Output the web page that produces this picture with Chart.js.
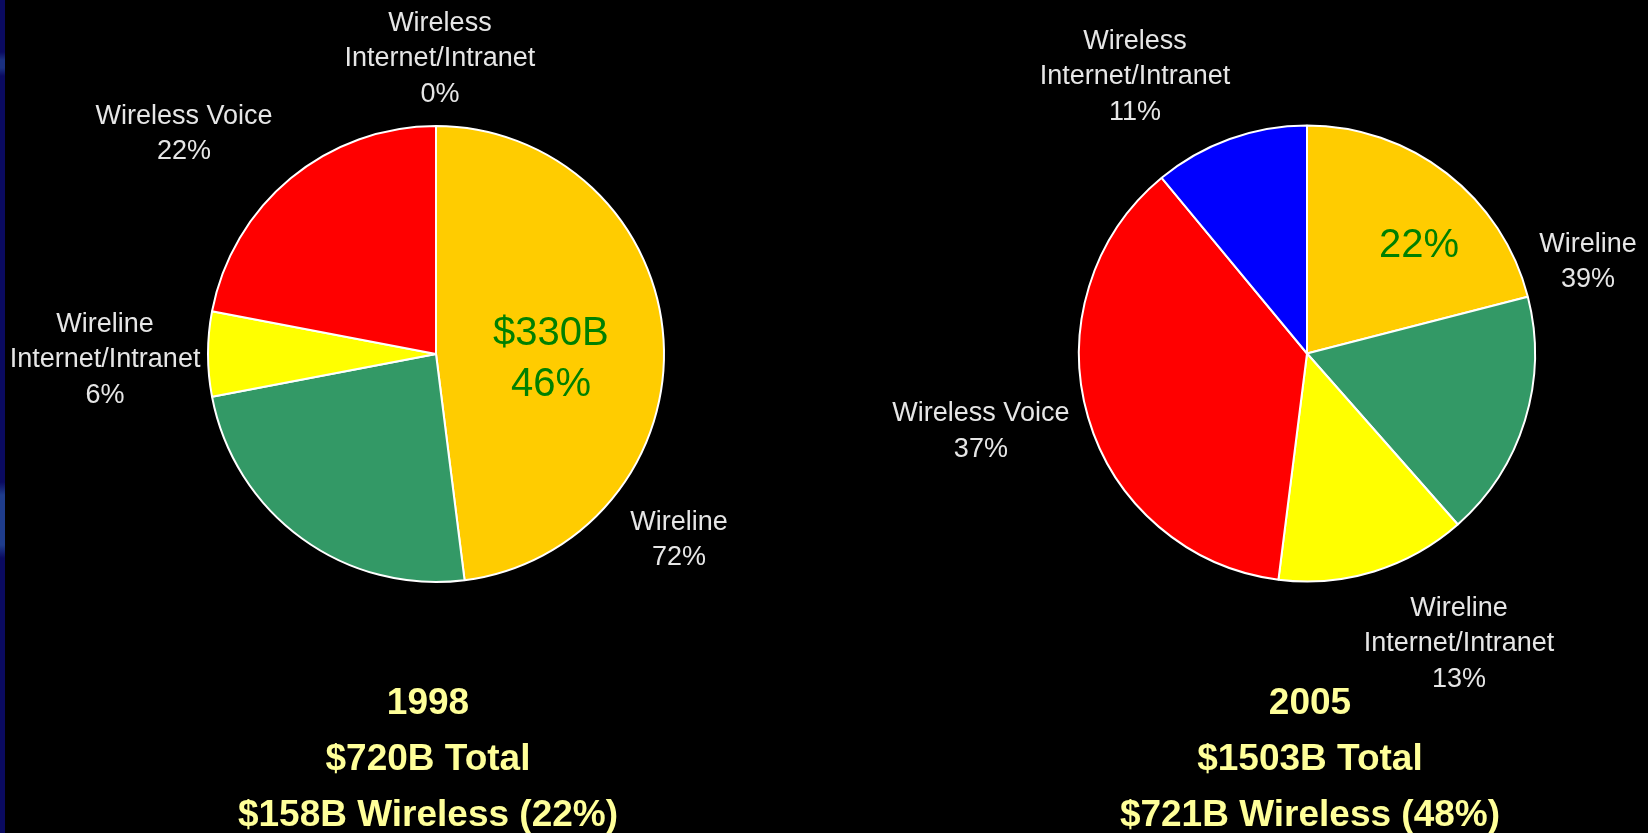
<!DOCTYPE html>
<html>
<head>
<meta charset="utf-8">
<script src="https://cdn.jsdelivr.net/npm/chart.js@4.4.1/dist/chart.umd.min.js"></script>
<style>
html,body{margin:0;padding:0;background:#000;width:1648px;height:833px;overflow:hidden;}
canvas{position:absolute;left:0;top:0;}
#overlay{position:absolute;left:0;top:0;width:1648px;height:833px;z-index:5;pointer-events:none;}
.strip{position:absolute;left:0;top:0;width:5px;height:833px;z-index:6;
  background:linear-gradient(to bottom,#0a0a60 0px,#0a0a60 52px,#1a3080 60px,#1a3080 68px,#0a0a60 76px,#0a0a60 482px,#1e3c8c 495px,#1e3c8c 545px,#0a0a60 558px,#0a0a60 100%);}
.lbl{position:absolute;transform:translate(-50%,-50%);text-align:center;white-space:pre;
  font-family:"Liberation Sans",Arial,sans-serif;font-size:27px;line-height:35.5px;color:#E6E6E6;}
.hl{color:#008000;font-size:40px;line-height:51px;}
.cap{color:#FFFF99;font-weight:bold;font-size:37px;line-height:56px;}
</style>
</head>
<body>
<div class="strip"></div>
<canvas id="c1998" width="1648" height="833"></canvas>
<canvas id="c2005" width="1648" height="833"></canvas>
<div id="overlay"></div>
<script>
// ---- data ----
const categories = ["Wireline ($330B)", "Wireline (other)", "Wireline Internet/Intranet", "Wireless Voice", "Wireless Internet/Intranet"];
const values1998 = [48, 24, 6, 22, 0];
const values2005 = [21, 17.5, 13.5, 37, 11];
const labels1998 = ["Wireless\nInternet/Intranet\n0%", "Wireless Voice\n22%", "Wireline\nInternet/Intranet\n6%", "Wireline\n72%"];
const labels2005 = ["Wireless\nInternet/Intranet\n11%", "Wireline\n39%", "Wireless Voice\n37%", "Wireline\nInternet/Intranet\n13%"];
const inner1998 = "$330B\n46%";
const inner2005 = "22%";
const captions1998 = ["1998", "$720B Total", "$158B Wireless (22%)"];
const captions2005 = ["2005", "$1503B Total", "$721B Wireless (48%)"];

// ---- style ----
const sliceColors = ["#FFCC00", "#339966", "#FFFF00", "#FF0000", "#0000FF"];
// label offsets in units of pie radius, relative to pie centre
const place1998 = {labels: [[0.017, -1.293], [-1.100, -0.967], [-1.445, 0.02], [1.061, 0.806]], inner: [0.502, 0.015], caption: [-0.035, 1.764]};
const place2005 = {labels: [[-0.751, -1.212], [1.227, -0.404], [-1.424, 0.336], [0.664, 1.264]], inner: [0.489, -0.483], caption: [0.013, 1.766]};

function annotPlugin(texts, inner, captions, place) {
  return {
    id: 'annot',
    afterDraw(chart) {
      if (chart._annotDone) return;
      chart._annotDone = true;
      const arc = chart.getDatasetMeta(0).data[0];
      const cx = arc.x, cy = arc.y, r = arc.outerRadius + 1;
      const ov = document.getElementById('overlay');
      const add = (text, cls, off) => {
        const d = document.createElement('div');
        d.className = cls;
        d.textContent = text;
        d.style.left = (cx + off[0] * r) + 'px';
        d.style.top = (cy + off[1] * r) + 'px';
        ov.appendChild(d);
      };
      texts.forEach((t, i) => add(t, 'lbl', place.labels[i]));
      add(inner, 'lbl hl', place.inner);
      add(captions.join('\n'), 'lbl cap', place.caption);
    }
  };
}

function makePie(id, values, padding, plugin) {
  return new Chart(document.getElementById(id), {
    type: 'pie',
    data: {
      labels: categories,
      datasets: [{
        data: values,
        backgroundColor: sliceColors,
        borderColor: '#FFFFFF',
        borderWidth: 2
      }]
    },
    options: {
      responsive: false,
      animation: false,
      devicePixelRatio: 1,
      radius: 228,
      layout: {padding: padding},
      plugins: {legend: {display: false}, tooltip: {enabled: false}, title: {display: false}}
    },
    plugins: [plugin]
  });
}

makePie('c1998', values1998, {left: 186, right: 962, top: 104, bottom: 229},
  annotPlugin(labels1998, inner1998, captions1998, place1998));
makePie('c2005', values2005, {left: 1057, right: 91, top: 103.5, bottom: 229.5},
  annotPlugin(labels2005, inner2005, captions2005, place2005));
</script>
</body>
</html>
